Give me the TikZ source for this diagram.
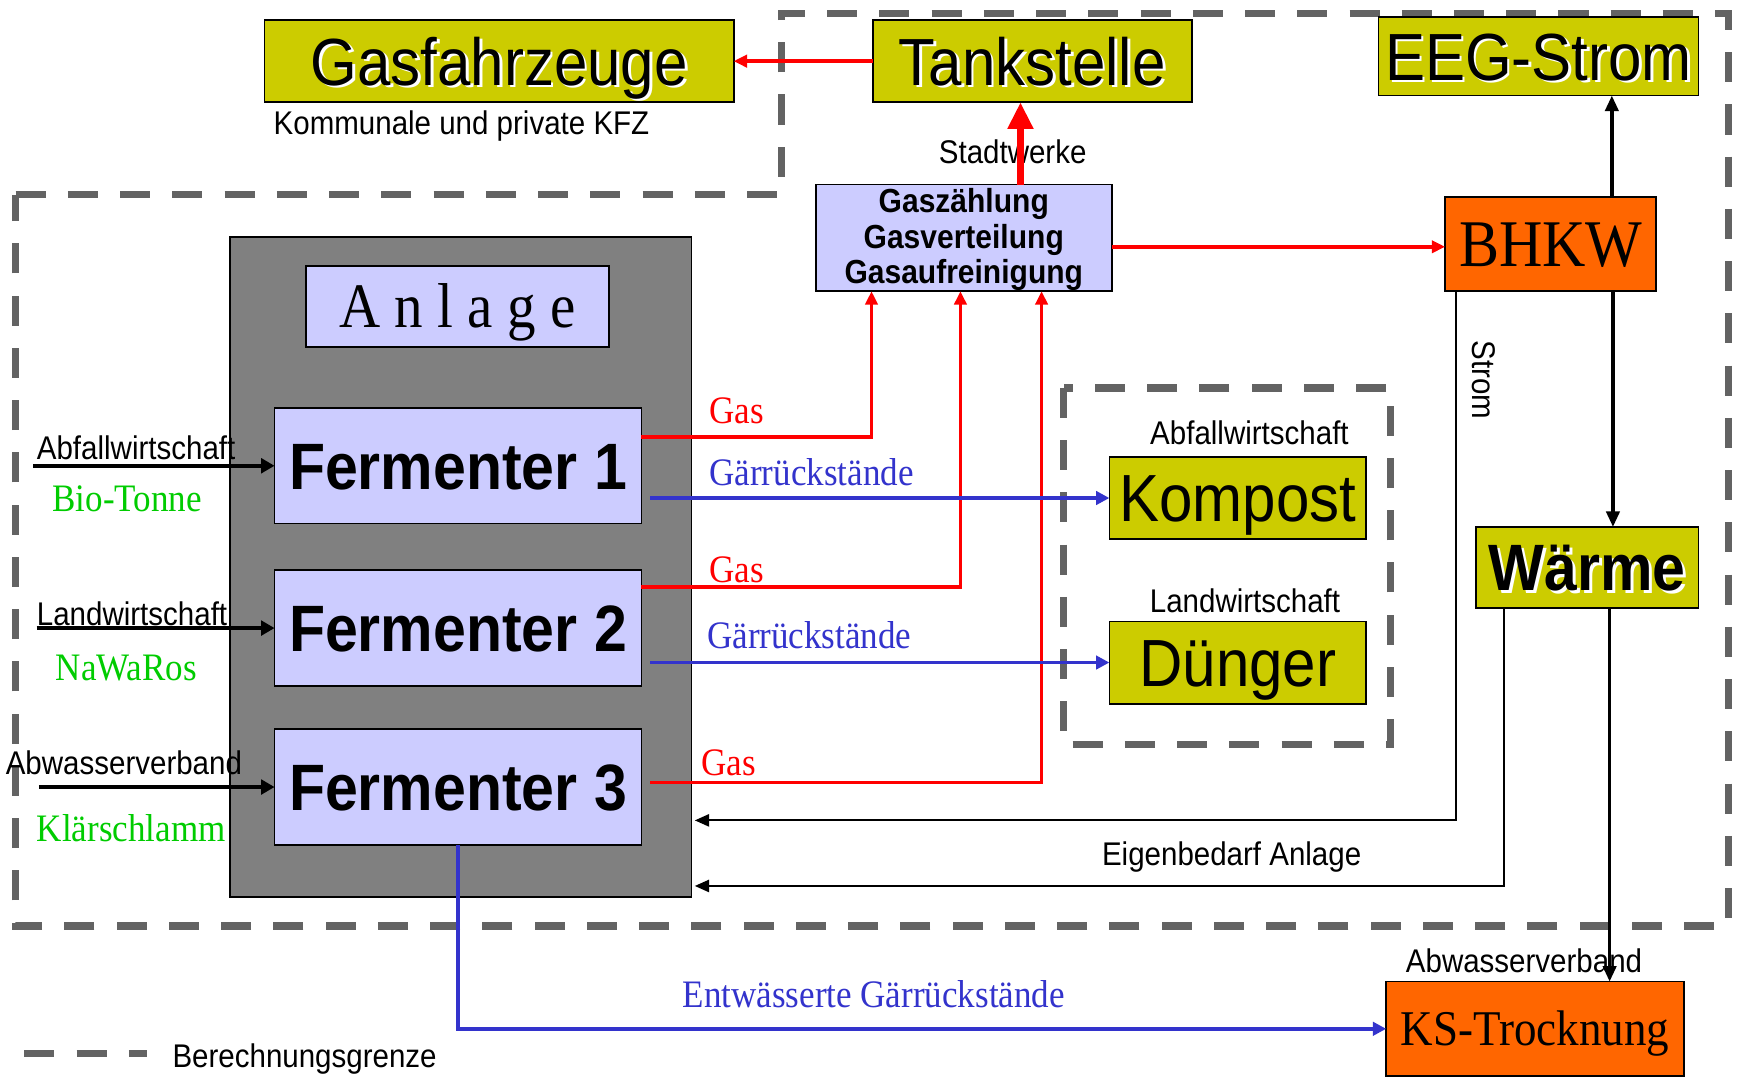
\documentclass[tikz,border=0pt]{standalone}
\usepackage{fontspec}
\setmainfont{Liberation Serif}[FakeStretch=0.9]
\newfontfamily\sansf{Liberation Sans}[FakeStretch=0.9]
\usetikzlibrary{arrows.meta}
\definecolor{ylw}{HTML}{CCCC00}
\definecolor{lav}{HTML}{CCCCFF}
\definecolor{org}{HTML}{FF6600}
\definecolor{gry}{HTML}{808080}
\definecolor{dsh}{HTML}{636363}
\definecolor{blu}{HTML}{3333CC}
\definecolor{grn}{HTML}{00CC00}
\definecolor{rd}{HTML}{FF0000}
\newcommand\shad[1]{\leavevmode\rlap{\kern2.5pt\raisebox{-2.5pt}{\color{white}#1}}#1}
\begin{document}
\begin{tikzpicture}[x=1pt,y=-1pt,
  box/.style={draw=black,line width=1.6pt,inner sep=0pt,outer sep=0pt},
  ybox/.style={box,fill=ylw},
  lbox/.style={box,fill=lav},
  obox/.style={box,fill=org},
  big/.style={font=\sansf\fontsize{60}{66}\selectfont,text height=43pt,text depth=0pt},
  bigb/.style={font=\sansf\bfseries\fontsize{59}{66}\selectfont,text height=42pt,text depth=0pt},
  sm/.style={font=\sansf\fontsize{29.5}{33}\selectfont,inner sep=0pt},
  lab/.style={font=\fontsize{35}{40}\selectfont,inner sep=0pt},
  boundary/.style={draw=dsh,line width=6.5pt,dash pattern=on 27pt off 20pt},
  gasl/.style={draw=rd,line width=3.2pt,-{Triangle[length=12pt,width=11pt]}},
  resl/.style={draw=blu,line width=3.2pt,-{Triangle[length=12pt,width=12pt]}},
  inl/.style={draw=black,line width=3.6pt,-{Triangle[length=12pt,width=13pt]}},
  thl/.style={draw=black,line width=3pt,-{Triangle[length=14pt,width=12pt]}},
  thinl/.style={draw=black,line width=2pt,-{Triangle[length=13pt,width=11pt]}}
]
\fill[white] (0,0) rectangle (1568,970);
\useasboundingbox (0,0) rectangle (1568,970);

% calculation boundaries
\draw[boundary] (14,175) -- (703,175) -- (703,12) -- (1555,12) -- (1555,833) -- (14,833) -- cycle;
\draw[boundary] (957,349) rectangle (1251,670);
\draw[boundary] (22,948) -- (132,948);
\node[sm,anchor=base west] (leg) at (155,960) {Berechnungsgrenze};

% top row
\node[ybox,big,minimum width=422,minimum height=74] (gf) at (449,55) {\shad{Gasfahrzeuge}};
\node[ybox,big,minimum width=287,minimum height=74] (tank) at (928.5,55) {\shad{Tankstelle}};
\node[ybox,big,minimum width=288,minimum height=71] (eeg) at (1384,50.5) {\shad{EEG-Strom}};
\node[sm,anchor=base west] (kfz) at (246,121) {Kommunale und private KFZ};
\node[sm,anchor=base] (stw) at (911,147) {Stadtwerke};

% gas handling
\node[lbox,minimum width=266,minimum height=96,align=center,
      font=\sansf\bfseries\fontsize{30}{32}\selectfont] (gas) at (867,214)
      {\rule{0pt}{25pt}Gaszählung\\Gasverteilung\\Gasaufreinigung};
\node[obox,minimum width=190,minimum height=85,
      font=\fontsize{60}{66}\selectfont,text height=40pt,text depth=0pt] (bhkw) at (1395,219.5) {BHKW};

% plant
\node[box,fill=gry,minimum width=415,minimum height=594] (anl) at (414.5,510) {};
\node[lbox,minimum width=273,minimum height=73,
      font=\fontsize{57}{62}\selectfont,text height=38pt,text depth=0pt] (anlab) at (411.5,275.5) {A n l a g e};
\node[lbox,bigb,minimum width=330,minimum height=104] (f1) at (412,419) {Fermenter 1};
\node[lbox,bigb,minimum width=330,minimum height=104] (f2) at (412,565) {Fermenter 2};
\node[lbox,bigb,minimum width=330,minimum height=104] (f3) at (412,708) {Fermenter 3};

% products
\node[ybox,big,minimum width=231,minimum height=74] (komp) at (1113.5,448) {Kompost};
\node[ybox,big,minimum width=231,minimum height=74] (dueng) at (1113.5,596) {Dünger};
\node[sm,anchor=base] (abf2) at (1124,400) {Abfallwirtschaft};
\node[sm,anchor=base] (lw2) at (1120,551) {Landwirtschaft};
\node[ybox,bigb,minimum width=200,minimum height=73] (waerme) at (1428,510.5) {\shad{Wärme}};
\node[obox,minimum width=268,minimum height=85,
      font=\fontsize{45}{50}\selectfont,text height=30pt,text depth=0pt] (ks) at (1381,925.5) {KS-Trocknung};
\node[sm,anchor=base] (abw2) at (1371,875) {Abwasserverband};

% inputs
\coordinate (in1) at (30,419);
\coordinate (in2) at (33,565);
\coordinate (in3) at (35,708);
\draw[inl] (in1) -- (f1.west);
\draw[inl] (in2) -- (f2.west);
\draw[inl] (in3) -- (f3.west);
\node[sm,anchor=base west] (abf1) at (33,413) {Abfallwirtschaft};
\node[lab,anchor=base west,text=grn] (bio) at (47,460) {Bio-Tonne};
\node[sm,anchor=base west] (lw1) at (33,563) {Landwirtschaft};
\node[lab,anchor=base west,text=grn] (nawa) at (50,612) {NaWaRos};
\node[sm,anchor=base west] (abw1) at (5,697) {Abwasserverband};
\node[lab,anchor=base west,text=grn] (ksl) at (33,757) {Klärschlamm};

% gas lines
\draw[gasl] ([yshift=26]f1.east) -| ([xshift=-83]gas.south);
\draw[gasl] ([yshift=37]f2.east) -| ([xshift=-3]gas.south);
\draw[gasl] ([xshift=8,yshift=4]f3.east) -| ([xshift=70]gas.south);
\node[lab,anchor=base west,text=rd] (g1) at (638,381) {Gas};
\node[lab,anchor=base west,text=rd] (g2) at (638,524) {Gas};
\node[lab,anchor=base west,text=rd] (g3) at (631,698) {Gas};
\draw[draw=rd,line width=7pt,-{Triangle[length=24pt,width=22pt]}] ([xshift=51]gas.north) -- ([xshift=-10.5]tank.south);
\draw[gasl] (tank.west) -- (gf.east);
\draw[gasl] ([yshift=-8]gas.east) -- ([yshift=-2.5]bhkw.west);

% digestate
\draw[resl] ([xshift=8,yshift=-29]f1.east) -- (komp.west);
\draw[resl] ([xshift=8,yshift=-31]f2.east) -- (dueng.west);
\draw[resl] (f3.south) |- (ks.west);
\node[lab,anchor=base west,text=blu] (r1) at (638,437) {Gärrückstände};
\node[lab,anchor=base west,text=blu] (r2) at (636,583) {Gärrückstände};
\node[lab,anchor=base west,text=blu] (r3) at (614,906) {Entwässerte Gärrückstände};

% power and heat
\draw[thl] ([xshift=55]bhkw.north) -- ([xshift=66]eeg.south);
\draw[thl] ([xshift=56]bhkw.south) -- ([xshift=23]waerme.north);
\draw[thl] ([xshift=20]waerme.south) -- ([xshift=67]ks.north);
\draw[thinl] ([xshift=-85]bhkw.south) |- ([xshift=3,yshift=-228]anl.east);
\draw[thinl] ([xshift=-75]waerme.south) |- ([xshift=3,yshift=-287]anl.east);
\node[sm,rotate=-90] (strom) at (1335,342) {Strom};
\node[sm,anchor=base] (eig) at (1108,779) {Eigenbedarf Anlage};
\end{tikzpicture}
\end{document}
